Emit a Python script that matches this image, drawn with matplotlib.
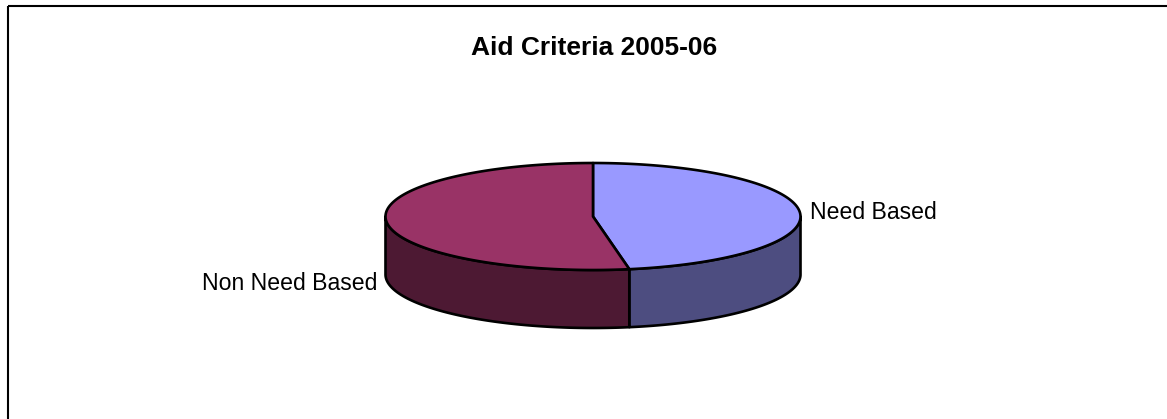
import numpy as np
import matplotlib
matplotlib.use("Agg")
import matplotlib.pyplot as plt
from matplotlib.patches import Polygon

title = "Aid Criteria 2005-06"
labels = ["Need Based", "Non Need Based"]
values = [47.2, 52.8]
top_colors = ["#9999FF", "#993366"]
side_colors = ["#4D4D80", "#4D1933"]

W, H = 1167, 419
fig = plt.figure(figsize=(W / 100, H / 100), dpi=100)
ax = fig.add_axes([0, 0, 1, 1])
ax.set_xlim(0, W)
ax.set_ylim(H, 0)
ax.axis("off")

cx, cy, rx, ry, depth = 593, 216.5, 207.5, 53.5, 58

def pt(t_deg, dy=0.0):
    t = np.radians(t_deg)
    return cx + rx * np.sin(t), cy - ry * np.cos(t) + dy

total = sum(values)
angles = [0.0]
for v in values:
    angles.append(angles[-1] + 360.0 * v / total)

# side walls (front half: 90..270 degrees clockwise from top)
for i in range(len(values)):
    a0, a1 = max(angles[i], 90.0), min(angles[i + 1], 270.0)
    if a1 <= a0:
        continue
    ts = np.linspace(a0, a1, 200)
    top = [pt(t) for t in ts]
    bot = [pt(t, depth) for t in ts[::-1]]
    ax.add_patch(Polygon(top + bot, closed=True, facecolor=side_colors[i],
                         edgecolor="black", linewidth=1.9, joinstyle="round", zorder=2))

# top faces
for i in range(len(values)):
    ts = np.linspace(angles[i], angles[i + 1], 300)
    poly = [(cx, cy)] + [pt(t) for t in ts]
    ax.add_patch(Polygon(poly, closed=True, facecolor=top_colors[i],
                         edgecolor="black", linewidth=1.9, joinstyle="round", zorder=3))

# labels
ax.text(810, 218.5, labels[0], fontsize=16.6, family="Liberation Sans",
        ha="left", va="baseline", color="black")
ax.text(377, 289.5, labels[1], fontsize=16.6, family="Liberation Sans",
        ha="right", va="baseline", color="black")

# title
ax.text(594, 55, title, fontsize=19, fontweight="bold", family="Liberation Sans",
        ha="center", va="baseline", color="black")

# chart area border (top and left visible)
ax.plot([7.5, W], [6, 6], color="black", linewidth=1.5, solid_capstyle="butt")
ax.plot([7.5, 7.5], [6, H], color="black", linewidth=1.5, solid_capstyle="butt")

fig.savefig("out.png", dpi=100, facecolor="white")
